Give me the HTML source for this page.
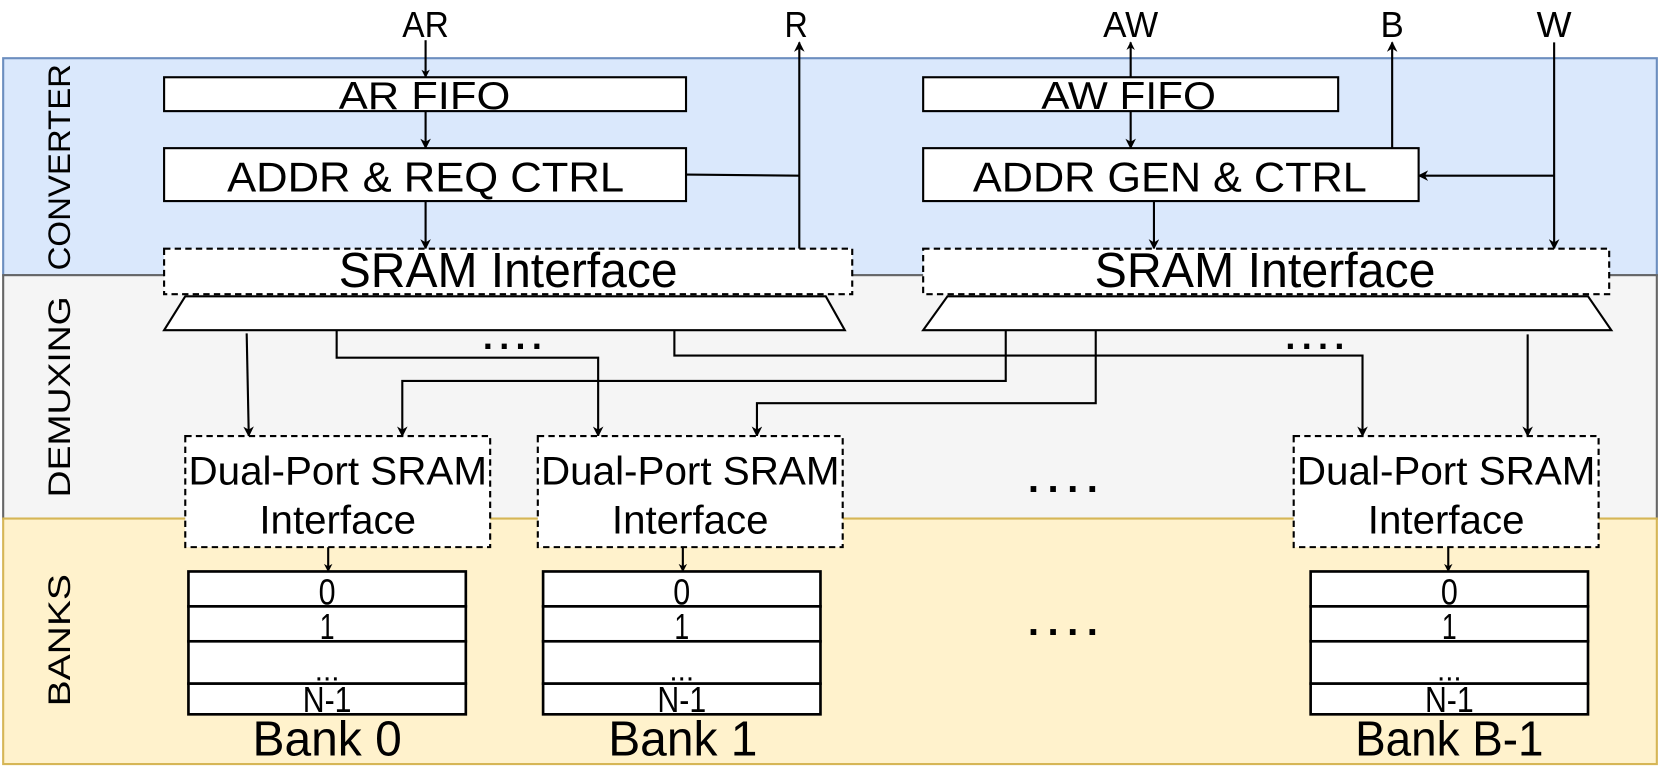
<!DOCTYPE html>
<html><head><meta charset="utf-8"><style>
html,body{margin:0;padding:0;background:#fff;}
svg{display:block;}
text{font-family:"Liberation Sans",sans-serif;fill:#000;}
</style></head><body>
<svg width="1660" height="781" viewBox="0 0 1568 738" preserveAspectRatio="none" xmlns="http://www.w3.org/2000/svg">
<defs>
<marker id="a" viewBox="0 0 10 10" refX="9" refY="5" markerWidth="10" markerHeight="10" orient="auto" markerUnits="userSpaceOnUse"><path d="M0,0 L10,5 L0,10 L3,5 z" fill="#000"/></marker>
<marker id="as" viewBox="0 0 10 10" refX="9" refY="5" markerWidth="8" markerHeight="8" orient="auto" markerUnits="userSpaceOnUse"><path d="M0,0 L10,5 L0,10 L3,5 z" fill="#000"/></marker>
</defs>
<rect x="3" y="55" width="1562" height="205" fill="#dae8fc" stroke="#6c8ebf" stroke-width="2"/>
<rect x="3" y="260" width="1562" height="230" fill="#f5f5f5" stroke="#666" stroke-width="2"/>
<rect x="3" y="490" width="1562" height="232" fill="#fff2cc" stroke="#d6b656" stroke-width="2"/>
<text transform="translate(66,158) rotate(-90)" font-size="30" text-anchor="middle" textLength="195" lengthAdjust="spacingAndGlyphs">CONVERTER</text>
<text transform="translate(66,375) rotate(-90)" font-size="30" text-anchor="middle" textLength="190" lengthAdjust="spacingAndGlyphs">DEMUXING</text>
<text transform="translate(66,605) rotate(-90)" font-size="30" text-anchor="middle" textLength="125" lengthAdjust="spacingAndGlyphs">BANKS</text>

<g stroke="#000" stroke-width="2" fill="none">
<line x1="402" y1="38" x2="402" y2="73" marker-end="url(#as)"/>
<line x1="402" y1="105" x2="402" y2="140" marker-end="url(#a)"/>
<line x1="402" y1="190" x2="402" y2="235" marker-end="url(#a)"/>
<polyline points="648,165 755,166"/>
<line x1="755" y1="235" x2="755" y2="40" marker-end="url(#a)"/>
<line x1="1068" y1="73" x2="1068" y2="40" marker-end="url(#as)"/>
<line x1="1068" y1="105" x2="1068" y2="140" marker-end="url(#a)"/>
<line x1="1090" y1="190" x2="1090" y2="235" marker-end="url(#a)"/>
<line x1="1315" y1="140" x2="1315" y2="40" marker-end="url(#a)"/>
<line x1="1468" y1="40" x2="1468" y2="235" marker-end="url(#a)"/>
<line x1="1468" y1="166" x2="1340" y2="166" marker-end="url(#a)"/>
<line x1="233" y1="315" x2="235" y2="412" marker-end="url(#a)"/>
<polyline points="318,312 318,338 565,338 565,412" marker-end="url(#a)"/>
<polyline points="637,312 637,336 1287,336 1287,412" marker-end="url(#a)"/>
<polyline points="950,312 950,360 380,360 380,412" marker-end="url(#a)"/>
<polyline points="1035,312 1035,381 715,381 715,412" marker-end="url(#a)"/>
<line x1="1443" y1="316" x2="1443" y2="412" marker-end="url(#a)"/>
<line x1="310" y1="517" x2="310" y2="540" marker-end="url(#as)"/>
<line x1="645" y1="517" x2="645" y2="540" marker-end="url(#as)"/>
<line x1="1368" y1="517" x2="1368" y2="540" marker-end="url(#as)"/>
</g>

<text x="402" y="35" font-size="34" text-anchor="middle" textLength="44" lengthAdjust="spacingAndGlyphs">AR</text>
<text x="752" y="35" font-size="34" text-anchor="middle" textLength="22" lengthAdjust="spacingAndGlyphs">R</text>
<text x="1068" y="35" font-size="34" text-anchor="middle" textLength="52" lengthAdjust="spacingAndGlyphs">AW</text>
<text x="1315" y="35" font-size="34" text-anchor="middle" textLength="22" lengthAdjust="spacingAndGlyphs">B</text>
<text x="1468" y="35" font-size="34" text-anchor="middle" textLength="33" lengthAdjust="spacingAndGlyphs">W</text>

<g stroke="#000" stroke-width="2" fill="#fff">
<rect x="155" y="73" width="493" height="32"/>
<rect x="155" y="140" width="493" height="50"/>
<rect x="872" y="73" width="392" height="32"/>
<rect x="872" y="140" width="468" height="50"/>
<rect x="155" y="235" width="650" height="43" stroke-dasharray="6,4"/>
<rect x="872" y="235" width="648" height="43" stroke-dasharray="6,4"/>
<polygon points="175,280 780,280 798,312 155,312"/>
<polygon points="895,280 1500,280 1522,312 872,312"/>
<rect x="175" y="412" width="288" height="105" stroke-dasharray="6,4"/>
<rect x="508" y="412" width="288" height="105" stroke-dasharray="6,4"/>
<rect x="1222" y="412" width="288" height="105" stroke-dasharray="6,4"/>
</g>
<text x="401" y="103" font-size="37" text-anchor="middle" textLength="162" lengthAdjust="spacingAndGlyphs">AR FIFO</text>
<text x="402" y="181" font-size="39" text-anchor="middle" textLength="375" lengthAdjust="spacingAndGlyphs">ADDR &amp; REQ CTRL</text>
<text x="1066" y="103" font-size="37" text-anchor="middle" textLength="165" lengthAdjust="spacingAndGlyphs">AW FIFO</text>
<text x="1105" y="181" font-size="39" text-anchor="middle" textLength="372" lengthAdjust="spacingAndGlyphs">ADDR GEN &amp; CTRL</text>
<text x="480" y="271" font-size="46" text-anchor="middle" textLength="320" lengthAdjust="spacingAndGlyphs">SRAM Interface</text>
<text x="1195" y="271" font-size="46" text-anchor="middle" textLength="322" lengthAdjust="spacingAndGlyphs">SRAM Interface</text>
<text x="487" y="330" font-size="34" text-anchor="middle" font-weight="bold" letter-spacing="6">....</text>
<text x="1245" y="330" font-size="34" text-anchor="middle" font-weight="bold" letter-spacing="6">....</text>
<text x="1008" y="465" font-size="38" text-anchor="middle" font-weight="bold" letter-spacing="8">....</text>
<text x="1008" y="600" font-size="38" text-anchor="middle" font-weight="bold" letter-spacing="8">....</text>

<g font-size="38" text-anchor="middle">
<text x="319" y="458" textLength="282" lengthAdjust="spacingAndGlyphs">Dual-Port SRAM</text>
<text x="319" y="504" textLength="148" lengthAdjust="spacingAndGlyphs">Interface</text>
<text x="652" y="458" textLength="282" lengthAdjust="spacingAndGlyphs">Dual-Port SRAM</text>
<text x="652" y="504" textLength="148" lengthAdjust="spacingAndGlyphs">Interface</text>
<text x="1366" y="458" textLength="282" lengthAdjust="spacingAndGlyphs">Dual-Port SRAM</text>
<text x="1366" y="504" textLength="148" lengthAdjust="spacingAndGlyphs">Interface</text>
</g>

<g id="bank">
<g stroke="#000" stroke-width="2.5" fill="#fff">
<rect x="178" y="540" width="262" height="33"/>
<rect x="178" y="573" width="262" height="33"/>
<rect x="178" y="606" width="262" height="40"/>
<rect x="178" y="646" width="262" height="29"/>
</g>
<g font-size="34" text-anchor="middle">
<text x="309" y="571" textLength="16" lengthAdjust="spacingAndGlyphs">0</text>
<text x="309" y="604" textLength="14" lengthAdjust="spacingAndGlyphs">1</text>
<text x="309" y="643" font-size="28">...</text>
<text x="309" y="673" textLength="46" lengthAdjust="spacingAndGlyphs">N-1</text>
</g>
</g>
<use href="#bank" transform="translate(335,0)"/>
<use href="#bank" transform="translate(1060,0)"/>
<g font-size="46" text-anchor="middle">
<text x="309" y="714" textLength="141" lengthAdjust="spacingAndGlyphs">Bank 0</text>
<text x="645" y="714" textLength="141" lengthAdjust="spacingAndGlyphs">Bank 1</text>
<text x="1369" y="714" textLength="178" lengthAdjust="spacingAndGlyphs">Bank B-1</text>
</g>
</svg>
</body></html>
